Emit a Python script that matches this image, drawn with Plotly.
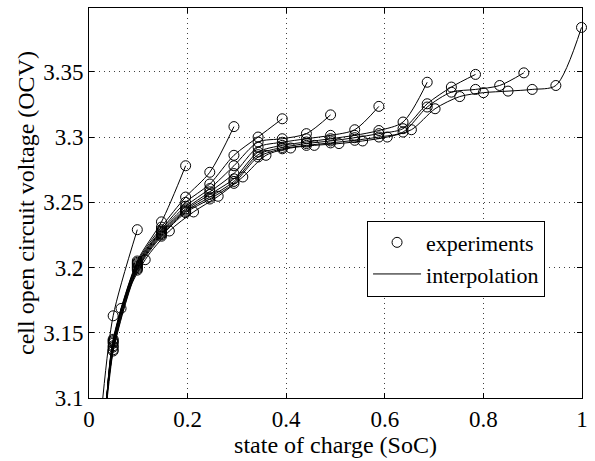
import plotly.graph_objects as go

# --- data ---
soc_grid = [0.049, 0.098, 0.147, 0.196, 0.245, 0.294, 0.343, 0.392, 0.441,
            0.490, 0.539, 0.588, 0.637, 0.686, 0.735, 0.784, 0.833, 0.882]

ocv_1 = [3.163, 3.229]
ocv_2 = [3.145, 3.205, 3.235, 3.278]
ocv_3 = [3.144, 3.204, 3.231, 3.254, 3.273, 3.308]
ocv_4 = [3.143, 3.203, 3.229, 3.250, 3.264, 3.286, 3.300, 3.314]
ocv_5 = [3.142, 3.202, 3.228, 3.247, 3.2605, 3.278, 3.2962, 3.2987, 3.3026, 3.317]
ocv_6 = [3.140, 3.201, 3.227, 3.245, 3.258, 3.272, 3.2923, 3.296, 3.2987, 3.3013,
         3.3056, 3.3235]
ocv_7 = [3.139, 3.200, 3.226, 3.244, 3.256, 3.268, 3.2885, 3.2936, 3.2962, 3.2987,
         3.3013, 3.305, 3.3115, 3.342]
ocv_8 = [3.137, 3.199, 3.225, 3.243, 3.254, 3.266, 3.2865, 3.292, 3.295, 3.297,
         3.2995, 3.3026, 3.3064, 3.3255, 3.3383, 3.348]
ocv_9 = [3.136, 3.198, 3.224, 3.242, 3.2525, 3.2645, 3.2847, 3.291, 3.2936, 3.2955,
         3.2975, 3.300, 3.3038, 3.323, 3.3344, 3.3365, 3.3395, 3.3492]

soc_10 = [0.065, 0.114, 0.163, 0.212, 0.262, 0.312, 0.359, 0.409, 0.457, 0.507,
          0.555, 0.605, 0.654, 0.702, 0.752, 0.800, 0.850, 0.899, 0.947, 0.999]
ocv_10 = [3.1686, 3.206, 3.228, 3.2426, 3.2546, 3.2694, 3.286, 3.2916, 3.2936, 3.295,
          3.297, 3.300, 3.3056, 3.3217, 3.331, 3.334, 3.3352, 3.3365, 3.3395, 3.384]

# SoC where each interpolation curve leaves the bottom of the axes (OCV = 3.1)
interp_start_soc = [0.028, 0.036, 0.036, 0.036, 0.036, 0.036, 0.036, 0.036, 0.036, 0.037]
interp_start_ocv = 3.1

x_ticks = [0, 0.2, 0.4, 0.6, 0.8, 1]
x_ticklabels = ["0", "0.2", "0.4", "0.6", "0.8", "1"]
y_ticks = [3.1, 3.15, 3.2, 3.25, 3.3, 3.35]
y_ticklabels = ["3.1", "3.15", "3.2", "3.25", "3.3", "3.35"]

curves_ocv = [ocv_1, ocv_2, ocv_3, ocv_4, ocv_5, ocv_6, ocv_7, ocv_8, ocv_9]
curves = [(soc_grid[:len(v)], v) for v in curves_ocv] + [(soc_10, ocv_10)]

FONT = "Liberation Serif, Times New Roman, serif"
fig = go.Figure()

for i, (xs, ys) in enumerate(curves):
    fig.add_trace(go.Scatter(
        x=[interp_start_soc[i]] + list(xs), y=[interp_start_ocv] + list(ys),
        mode="lines", line=dict(color="black", width=1, shape="spline", smoothing=0.8),
        name="interpolation", legendgroup="interp", showlegend=(i == 0),
        legendrank=2, hoverinfo="skip"))

for i, (xs, ys) in enumerate(curves):
    fig.add_trace(go.Scatter(
        x=xs, y=ys, mode="markers",
        marker=dict(symbol="circle-open", size=10, color="black", line=dict(width=1, color="black")),
        name="experiments", legendgroup="exp", showlegend=(i == 0),
        legendrank=1, cliponaxis=False))

axis_common = dict(
    showline=True, linecolor="black", linewidth=1, mirror="ticks",
    ticks="inside", ticklen=5, tickcolor="black",
    showgrid=True, gridcolor="rgba(0,0,0,0.75)", gridwidth=1, griddash="1px,4px",
    zeroline=False, tickfont=dict(family=FONT, size=23, color="black"),
)

fig.update_xaxes(range=[0, 1], tickvals=x_ticks, ticktext=x_ticklabels,
                 title=dict(text="state of charge (SoC)", font=dict(family=FONT, size=24, color="black"),
                            standoff=2),
                 **axis_common)
fig.update_yaxes(range=[3.1, 3.3989], tickvals=y_ticks, ticktext=y_ticklabels,
                 title=dict(text="cell open circuit voltage (OCV)", font=dict(family=FONT, size=24, color="black"),
                            standoff=1),
                 **axis_common)

fig.update_layout(
    width=595, height=461,
    margin=dict(l=89, r=7, t=8, b=63),
    paper_bgcolor="white", plot_bgcolor="white",
    showlegend=True,
    legend=dict(x=0.564, y=0.455, xanchor="left", yanchor="top",
                bgcolor="white", bordercolor="black", borderwidth=1,
                font=dict(family=FONT, size=22, color="black"),
                itemwidth=48, tracegroupgap=0, traceorder="normal"),
    font=dict(family=FONT, color="black"),
)

fig.write_html("out.html")
